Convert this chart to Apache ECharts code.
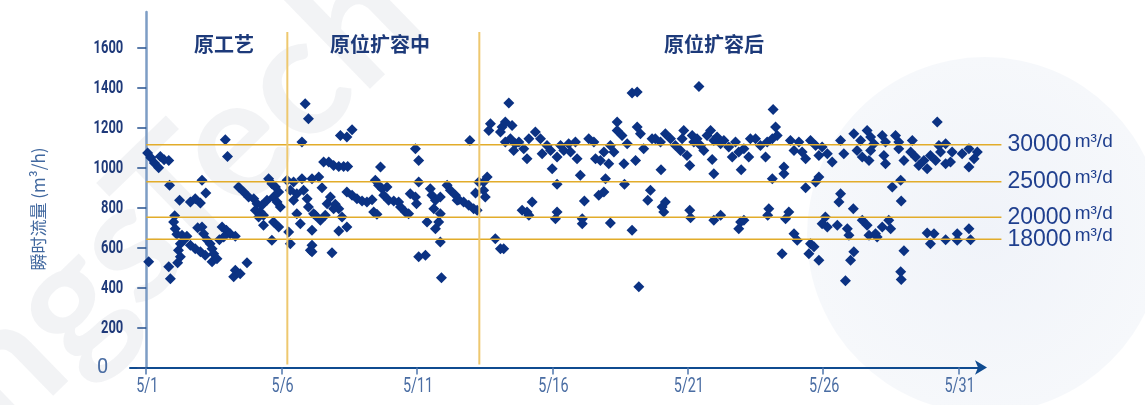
<!DOCTYPE html>
<html><head><meta charset="utf-8">
<script src="https://cdn.jsdelivr.net/npm/echarts@6/dist/echarts.min.js"></script>
<style>html,body{margin:0;padding:0;background:#fff}#c{width:1145px;height:405px}</style>
</head><body><div id="c"></div>
<script>
// ---- data (day of May, instantaneous flow m3/h) ----
const xTickDays = [1, 6, 11, 16, 21, 26, 31];
const yTicks = [0, 200, 400, 600, 800, 1000, 1200, 1400, 1600];
const refLevels = [1115, 930, 752, 642];
const refLabels = ['30000', '25000', '20000', '18000'];
const phaseBreaks = [6.21, 13.30];
const phaseNames = ['原工艺', '原位扩容中', '原位扩容后'];

const phase1 = [[1.05,1074],[1.17,1050],[1.30,1024],[1.46,1000],[1.52,1057],[1.66,1040],[1.83,1037],[3.92,1140],[4.00,1057],[1.86,912],[3.06,937],[3.20,874],[2.23,837],[2.63,829],[2.81,845],[3.00,824],[2.01,729],[2.07,695],[2.13,667],[2.32,662],[2.50,657],[2.26,620],[2.19,587],[2.26,554],[2.16,524],[1.09,529],[1.83,504],[1.89,445],[3.06,704],[3.12,670],[3.24,640],[3.36,620],[3.43,595],[3.49,570],[2.63,612],[2.81,595],[3.00,579],[3.18,562],[3.43,529],[3.61,545],[3.80,704],[3.96,687],[4.10,670],[4.29,657],[3.86,654],[4.29,487],[4.23,454],[4.47,470],[4.72,524],[4.41,904],[4.60,879],[4.78,854],[4.97,845],[5.09,820],[5.03,787],[5.21,779],[5.33,762],[5.52,945],[5.64,920],[5.77,904],[5.89,879],[5.70,854],[5.83,829],[5.95,804],[5.46,837],[5.27,812],[5.15,754],[5.33,712],[5.70,729],[5.89,704],[5.64,637],[6.20,937],[2.40,640],[2.90,700],[3.70,640],[2.05,760]];

const phase2 = [[6.32,887],[6.44,837],[6.26,679],[6.32,620],[6.56,770],[6.75,945],[6.75,1129],[6.87,1320],[6.99,1245],[6.81,887],[6.94,845],[6.69,720],[7.06,587],[7.12,945],[6.99,804],[7.18,770],[6.44,929],[6.56,870],[8.17,1162],[8.41,1154],[8.60,1190],[7.55,1029],[7.74,1029],[7.92,1012],[8.11,1007],[8.29,1007],[8.44,1007],[9.65,1004],[7.37,954],[7.49,900],[7.80,854],[7.68,820],[7.98,817],[8.11,795],[7.92,795],[7.61,762],[7.43,737],[7.24,762],[8.23,754],[8.41,704],[8.11,684],[7.12,687],[7.12,612],[7.12,579],[7.86,574],[8.41,879],[8.60,862],[8.78,845],[8.97,834],[9.15,829],[9.34,840],[9.46,937],[9.58,912],[9.71,895],[9.89,904],[9.77,862],[9.95,837],[10.14,834],[10.32,829],[10.39,804],[10.57,779],[10.69,770],[9.40,779],[9.52,767],[10.75,870],[10.94,854],[10.98,820],[10.94,1095],[11.06,1037],[11.06,929],[11.49,895],[11.55,862],[11.68,837],[11.86,854],[11.62,795],[11.86,770],[11.37,729],[11.68,695],[11.80,729],[11.86,629],[11.06,554],[11.31,562],[11.90,450],[12.11,912],[12.23,887],[12.42,862],[12.54,840],[12.72,829],[12.91,812],[13.09,795],[13.22,787],[12.48,837],[12.95,1137],[13.16,874],[13.28,929]];

const phase3 = [[13.46,929],[13.59,954],[13.46,887],[13.52,854],[14.39,1324],[13.71,1220],[13.65,1187],[14.14,1204],[14.26,1229],[14.08,1179],[14.51,1212],[14.26,1129],[14.45,1145],[14.63,1120],[14.57,1087],[14.76,1129],[14.94,1095],[15.06,1045],[15.13,1145],[15.37,1179],[15.56,1145],[15.62,1070],[15.80,1112],[15.93,1087],[15.99,995],[16.17,1054],[16.30,1112],[16.42,1087],[16.60,1120],[16.67,1079],[16.85,1129],[16.91,1045],[17.03,962],[17.34,1145],[17.53,1129],[17.59,1045],[17.77,1037],[17.90,1079],[18.08,1020],[18.14,1112],[18.27,1079],[18.39,1229],[18.39,1187],[18.57,1162],[18.64,1020],[18.76,1120],[18.94,1374],[19.13,1379],[19.13,1204],[19.07,1037],[19.25,1170],[19.37,1095],[19.68,1145],
[13.89,645],[14.08,595],[14.20,595],[14.88,787],[15.06,779],[15.25,829],[15.13,762],[16.17,917],[16.17,779],[16.11,745],[17.18,834],[17.10,745],[17.10,720],[17.71,862],[17.90,879],[17.96,945],[18.14,724],[18.66,917],[18.94,687],[19.62,887],[19.52,837],[19.19,404],
[21.41,1407],[19.80,1145],[19.99,1129],[20.17,1170],[20.36,1145],[20.54,1112],[20.73,1087],[20.85,1187],[20.79,1145],[20.97,1062],[21.16,1162],[21.22,1129],[21.34,1145],[21.47,1112],[21.59,1087],[21.71,1162],[21.84,1187],[21.96,1137],[22.08,1154],[22.21,1120],[22.33,1137],[22.51,1104],[22.64,1054],[22.76,1129],[22.88,1079],[23.07,1095],[23.25,1054],[23.31,1145],[23.50,1145],[23.68,1112],[23.87,1054],[23.93,1129],[24.12,1145],[24.30,1162],[24.24,1204],[24.15,1292],[24.79,1137],[24.92,1087],[25.10,1129],[25.22,1079],[25.35,1045],[25.53,1137],[25.72,1112],[25.84,1062],[25.96,1104],[20.01,990],[21.07,1012],[21.90,1042],[21.96,970],[22.97,990],[24.12,945],[24.55,1004],[24.55,970],[25.35,900],[25.72,929],[25.84,954],[20.17,829],[20.05,804],[20.11,779],[21.07,787],[21.10,750],[21.96,737],[22.21,762],[22.95,729],[23.07,737],[22.88,695],[23.99,795],[23.95,762],[24.73,779],[24.61,745],[24.92,670],[25.04,637],[24.48,570],[25.53,620],[25.66,604],[25.47,570],[25.84,537],[25.96,720],
[30.21,1229],[26.64,1137],[27.13,1170],[27.38,1137],[27.62,1187],[27.75,1154],[27.87,1120],[28.18,1162],[28.30,1129],[28.67,1162],[28.79,1129],[29.29,1137],[30.27,1112],[30.52,1120],[31.38,1095],[31.69,1079],[26.15,1070],[26.33,1029],[26.76,1070],[27.25,1087],[27.44,1054],[27.69,1037],[27.75,1087],[28.24,1062],[28.30,1020],[28.79,1095],[28.98,1037],[29.23,1079],[29.41,1054],[29.53,1012],[29.72,1037],[29.84,995],[29.96,1062],[30.15,1037],[30.33,1079],[30.52,1020],[30.70,1029],[30.76,1079],[31.13,1070],[31.38,1004],[31.57,1045],[28.86,937],[28.55,904],[26.64,870],[26.58,829],[27.11,795],[28.88,834],[26.08,754],[26.15,704],[26.52,712],[26.89,695],[26.95,662],[27.44,737],[27.62,712],[27.69,662],[27.93,670],[28.18,704],[28.42,737],[28.49,695],[27.99,654],[29.84,674],[30.09,670],[29.96,620],[30.52,640],[30.95,670],[30.95,637],[31.38,695],[31.44,640],[27.13,579],[27.01,537],[26.82,434],[28.98,584],[28.86,479],[28.88,440]];

// ---- chart ----
const toX = d => d - 1; // days since 5/1
const points = phase1.concat(phase2, phase3).map(p => [toX(p[0]), p[1]]);
const xTickVals = xTickDays.map(toX);
const cjk = '"Noto Sans CJK SC",sans-serif';
const lat = '"Liberation Sans",Arial,sans-serif';

const chart = echarts.init(document.getElementById('c'), null, { renderer: 'canvas' });
chart.setOption({
  animation: false,
  backgroundColor: '#ffffff',
  grid: { left: 130, right: 162, top: 12, bottom: 37.5, containLabel: false },
  xAxis: {
    type: 'value', min: -0.6, max: 30.9,
    splitLine: { show: false },
    axisLine: { show: true, onZero: true, symbol: ['none', 'arrow'], symbolSize: [11, 12], symbolOffset: [0, 4],
      lineStyle: { color: '#0f4b90', width: 2 } },
    axisTick: { show: true, customValues: xTickVals, length: 7, lineStyle: { color: '#4f77ad', width: 1.5 } },
    axisLabel: { show: false }
  },
  yAxis: {
    type: 'value', min: 0, max: 1780,
    splitLine: { show: false },
    axisLine: { show: true, onZero: true, lineStyle: { color: '#7d9dc5', width: 2.5 } },
    axisTick: { show: true, customValues: yTicks, length: 9, lineStyle: { color: '#24508f', width: 1.5 } },
    axisLabel: { show: false }
  },
  series: [{
    type: 'scatter', clip: false, symbol: 'diamond', symbolSize: 11,
    itemStyle: { color: '#0b3283', opacity: 1 },
    data: points
  }]
});

// ---- texts and reference lines placed through the axes' scales ----
const px = (x, y) => chart.convertToPixel({ gridIndex: 0 }, [x, y]);
const g = [
  { type: 'circle', z: -10, silent: true, shape: { cx: 985, cy: 235, r: 178 },
    style: { fill: { type: 'radial', x: 0.5, y: 0.5, r: 0.5, colorStops: [{ offset: 0, color: '#f0f3f9' }, { offset: 1, color: '#f6f8fb' }] } } },
  { type: 'text', z: -9, silent: true, x: -32, y: 402, rotation: 0.77,
    style: { text: 'ngsTech', font: 'bold 170px Lato, sans-serif', fill: 'rgba(200,204,212,0.24)', align: 'left', verticalAlign: 'middle' } },
  { type: 'text', x: 224, y: 44, style: { text: phaseNames[0], font: 'bold 20px ' + cjk, fill: '#1d3a7a', align: 'center', verticalAlign: 'middle' } },
  { type: 'text', x: 380, y: 44, style: { text: phaseNames[1], font: 'bold 20px ' + cjk, fill: '#1d3a7a', align: 'center', verticalAlign: 'middle' } },
  { type: 'text', x: 714, y: 44, style: { text: phaseNames[2], font: 'bold 20px ' + cjk, fill: '#1d3a7a', align: 'center', verticalAlign: 'middle' } },
  { type: 'text', x: 39, y: 209, rotation: Math.PI / 2,
    style: { text: '瞬时流量 (m³/h)', font: '17px ' + cjk, fill: '#41689f', align: 'center', verticalAlign: 'middle' } }
];
yTicks.forEach(v => {
  const p = px(0, v);
  if (v === 0) {
    g.push({ type: 'text', x: p[0] - 38, y: p[1], style: { text: '0', font: '20px Roboto, sans-serif', fill: '#4a6da3', align: 'right', verticalAlign: 'middle' } });
  } else {
    g.push({ type: 'text', x: p[0] - 23, y: p[1] + 1, scaleX: 0.72, style: { text: String(v), font: 'bold 18px Roboto, sans-serif', fill: '#1f3a7a', align: 'right', verticalAlign: 'middle' } });
  }
});
xTickVals.forEach(v => {
  const p = px(v, 0);
  g.push({ type: 'text', x: p[0] + 1, y: p[1] + 19, scaleX: 0.72, style: { text: '5/' + Math.round(v + 1), font: '20px Roboto, sans-serif', fill: '#4a6da3', align: 'center', verticalAlign: 'middle' } });
});
refLevels.forEach((v, i) => {
  const a = px(0, v), b = px(31.58, v);
  g.push({ type: 'line', z: 10, silent: true, shape: { x1: a[0], y1: a[1], x2: b[0], y2: b[1] }, style: { stroke: '#e2ac2a', lineWidth: 1.5 } });
  g.push({ type: 'text', z: 10, x: b[0] + 6, y: b[1], style: { text: '{n|' + refLabels[i] + '} {u|m³/d}', verticalAlign: 'middle', align: 'left',
    rich: { n: { fontSize: 23, fontFamily: lat, fill: '#1f3f8e' }, u: { fontSize: 19, fontFamily: lat, fill: '#1f3f8e', padding: [0, 0, 7, 0] } } } });
});
phaseBreaks.forEach(d => {
  const a = px(toX(d), 15), b = px(toX(d), 1680);
  g.push({ type: 'line', z: 10, silent: true, shape: { x1: a[0], y1: a[1], x2: b[0], y2: b[1] }, style: { stroke: '#eec86f', lineWidth: 2 } });
});
chart.setOption({ graphic: g });
</script></body></html>
